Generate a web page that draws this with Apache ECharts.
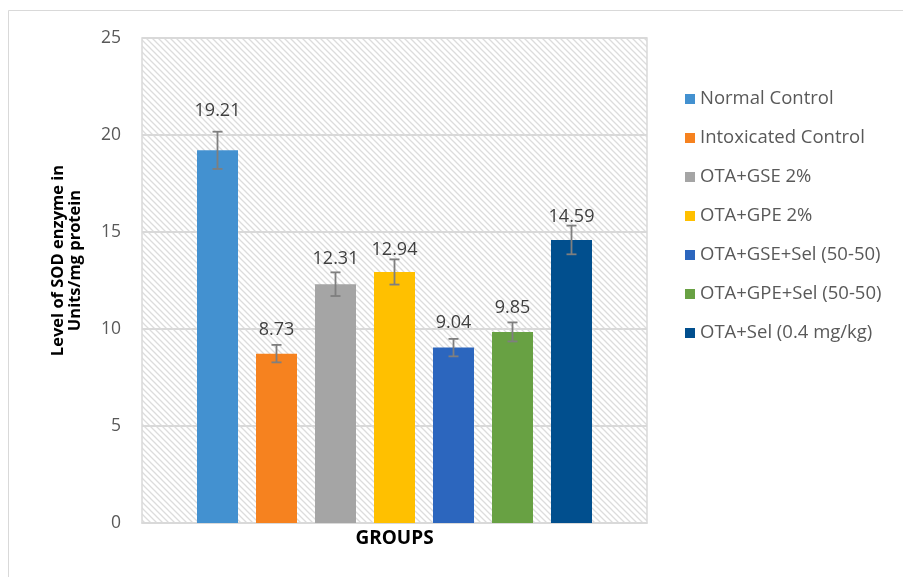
<!DOCTYPE html>
<html>
<head>
<meta charset="utf-8">
<script src="https://cdn.jsdelivr.net/npm/echarts@6/dist/echarts.min.js"></script>
<style>html,body{margin:0;padding:0;background:#fff;}#c{width:903px;height:577px;}</style>
</head>
<body>
<div id="c"></div>
<script>
const groups = ['Normal Control','Intoxicated Control','OTA+GSE 2%','OTA+GPE 2%','OTA+GSE+Sel (50-50)','OTA+GPE+Sel (50-50)','OTA+Sel (0.4 mg/kg)'];
const values = [19.21, 8.73, 12.31, 12.94, 9.04, 9.85, 14.59];
const errors = [0.96, 0.45, 0.61, 0.65, 0.45, 0.49, 0.74];
const yTicks = [0, 5, 10, 15, 20, 25];

const colors = ['#4391d0','#f6821f','#a5a5a5','#ffc000','#2c66be','#68a143','#014f8e'];
const labelGaps = [29, 14, 15, 12, 15, 14, 13];
const BAR_W = 41, GAP = 18 / 41;
const FONT = '"Open Sans", "DejaVu Sans", sans-serif';

// hatch pattern
const tile = document.createElement('canvas');
tile.width = 6; tile.height = 6;
const g = tile.getContext('2d');
g.fillStyle = '#ffffff'; g.fillRect(0,0,6,6);
g.strokeStyle = '#dcdcdc'; g.lineWidth = 1.3;
g.beginPath();
g.moveTo(-1,-1); g.lineTo(7,7);
g.moveTo(-1,5); g.lineTo(1,7);
g.moveTo(5,-1); g.lineTo(7,1);
g.stroke();

const chart = echarts.init(document.getElementById('c'), null, {renderer:'canvas'});

const barSeries = groups.map((name, i) => ({
  type: 'bar',
  name: name,
  data: [values[i]],
  barWidth: BAR_W,
  barGap: (GAP * 100).toFixed(1) + '%',
  itemStyle: { color: colors[i] },
  label: {
    show: true, position: 'top', distance: labelGaps[i],
    formatter: p => p.value.toFixed(2),
    color: '#404040', fontSize: 18, fontFamily: FONT, lineHeight: 20
  },
  z: 3
}));

const errSeries = {
  type: 'custom',
  name: 'err',
  data: values.map((v, i) => [0, v, errors[i], i]),
  encode: { x: 0, y: 1 },
  z: 5,
  renderItem: function (params, api) {
    const i = api.value(3), v = api.value(1), e = api.value(2);
    const x0 = api.coord([0, 0])[0];
    const step = BAR_W * (1 + GAP);
    const cx = x0 + (i - (groups.length - 1) / 2) * step;
    const yt = api.coord([0, v + e])[1];
    const yb = api.coord([0, v - e])[1];
    const hw = 5;
    const st = { stroke: '#7f7f7f', lineWidth: 1.8 };
    return { type: 'group', children: [
      { type: 'line', shape: { x1: cx, y1: yt, x2: cx, y2: yb }, style: st },
      { type: 'line', shape: { x1: cx - hw, y1: yt, x2: cx + hw, y2: yt }, style: st },
      { type: 'line', shape: { x1: cx - hw, y1: yb, x2: cx + hw, y2: yb }, style: st }
    ]};
  }
};

chart.setOption({
  animation: false,
  backgroundColor: '#ffffff',
  graphic: [{
    type: 'rect', silent: true, z: -10,
    shape: { x: 8.5, y: 10.5, width: 920, height: 600 },
    style: { fill: 'none', stroke: '#d9d9d9', lineWidth: 1 }
  }],
  grid: {
    left: 142, right: 256, top: 38, bottom: 54,
    show: true, backgroundColor: { image: tile, repeat: 'repeat' },
    borderColor: '#d9d9d9', borderWidth: 1.5
  },
  legend: {
    orient: 'vertical', left: 680, top: 84,
    data: groups, icon: 'rect', itemWidth: 10, itemHeight: 10, itemGap: 19,
    textStyle: { color: '#595959', fontSize: 18.5, fontFamily: FONT, lineHeight: 20 },
    selectedMode: false
  },
  xAxis: {
    type: 'category', data: [''],
    name: 'GROUPS', nameLocation: 'middle', nameGap: 6,
    nameTextStyle: { color: '#000', fontWeight: 'bold', fontSize: 19, fontFamily: FONT },
    axisLine: { show: true, lineStyle: { color: '#d9d9d9', width: 1.5 } },
    axisTick: { show: false }, axisLabel: { show: false }
  },
  yAxis: {
    type: 'value', min: yTicks[0], max: yTicks[yTicks.length - 1], interval: 5,
    name: 'Level of SOD enzyme in\nUnits/mg protein',
    nameLocation: 'middle', nameGap: 58, nameMoveOverlap: false,
    nameTextStyle: { color: '#000', fontWeight: 'bold', fontSize: 16.5, fontFamily: FONT, lineHeight: 17, padding: [0, 0, 0, 40] },
    axisLine: { show: false }, axisTick: { show: false },
    axisLabel: { color: '#595959', fontSize: 17.5, fontFamily: FONT, margin: 21 },
    splitLine: { show: true, lineStyle: { color: '#d9d9d9', width: 2 } }
  },
  series: barSeries.concat([errSeries])
});
</script>
</body>
</html>
